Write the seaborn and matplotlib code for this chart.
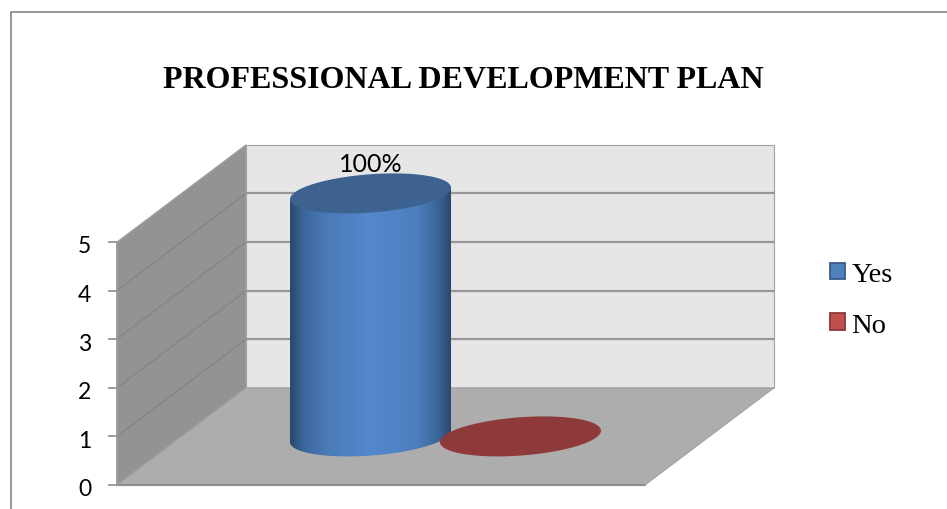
import numpy as np
import pandas as pd
import matplotlib
matplotlib.use("Agg")
import matplotlib.pyplot as plt
from matplotlib.colors import LinearSegmentedColormap
from matplotlib.patches import Polygon
from matplotlib.transforms import ScaledTranslation
import seaborn as sns

TITLE = "PROFESSIONAL DEVELOPMENT PLAN"
categories = ["Professional development plan"]
series = ["Yes", "No"]
values = [5, 0]
y_ticks = [0, 1, 2, 3, 4, 5]

W, H = 947, 510
sns.set_theme(style="white")
fig = plt.figure(figsize=(W / 100, H / 100), dpi=100, facecolor="white")
ax = fig.add_axes([117 / W, 1 - 486 / H, 528 / W, 243 / H])

df = pd.DataFrame({"category": categories * 2, "series": series, "value": values})
sns.barplot(data=df, x="category", y="value", hue="series", hue_order=series,
            palette=["#4F81BD", "#C0504D"], width=0.568, saturation=1, ax=ax,
            edgecolor="#385D8A", linewidth=0)

# Oblique projection: depth runs up and to the right of the front plane
DX, DY = 129 / 528, 2.0
X0, X1 = -0.5, 0.5
YTOP = y_ticks[-1]


def proj(x, y, d):
    return (x + d * DX, y + d * DY)


def wall(corners, color, z):
    ax.add_patch(Polygon([proj(*c) for c in corners], closed=True, facecolor=color,
                         edgecolor="#A2A2A2", linewidth=0.8, clip_on=False, zorder=z))


wall([(X0, 0, 1), (X1, 0, 1), (X1, YTOP, 1), (X0, YTOP, 1)], "#E6E6E6", 0.1)
wall([(X0, 0, 0), (X1, 0, 0), (X1, 0, 1), (X0, 0, 1)], "#ADADAD", 0.2)
wall([(X0, 0, 0), (X0, 0, 1), (X0, YTOP, 1), (X0, YTOP, 0)], "#939393", 0.3)

# Gridlines wrap from the side wall onto the back wall
for v in y_ticks[1:-1]:
    xa, ya = proj(X0, v, 0)
    xb, yb = proj(X0, v, 1)
    xc, yc = proj(X1, v, 1)
    ax.plot([xa, xb], [ya, yb], color="#858585", lw=1.0, clip_on=False, zorder=0.4)
    ax.plot([xb, xc], [yb, yc], color="#979797", lw=1.6, clip_on=False, zorder=0.4)
ax.plot([X0, X1], [0, 0], color="#8E8E8E", lw=1.6, clip_on=False, zorder=0.5)
ax.plot([X0, X0], [0, YTOP], color="#9A9A9A", lw=1.2, clip_on=False, zorder=0.5)

# Cylinder caps are sheared ellipses lying in the floor plane
RX = 80.5 / 528
RY = 20 / 48.6
PHASE = 0.29


def cap_points(cx, cy, start=0.0, stop=2 * np.pi):
    t = np.linspace(start, stop, 240)
    return np.column_stack([cx + RX * np.cos(t), cy + RY * np.sin(t + PHASE)])


body_cmap = LinearSegmentedColormap.from_list("body", [
    (0.00, "#2A4769"), (0.08, "#3A659A"), (0.22, "#4A7AB6"), (0.50, "#5487CC"),
    (0.78, "#4D7FBF"), (0.92, "#3A6496"), (1.00, "#2A466B")])
top_colors = {"Yes": "#3D628F", "No": "#8F3A3A"}

for name, value, bar in zip(series, values, ax.patches):
    cx, base = proj(bar.get_x() + bar.get_width() / 2, 0, 0.5)
    top = base + value
    bar.set_visible(False)
    if value > 0:
        # Side of the cylinder: up the left edge, across, down, then under the base
        under = cap_points(cx, base, np.pi, 2 * np.pi)
        outline = np.vstack([[(cx - RX, top + RY * np.sin(np.pi + PHASE))], under,
                             [(cx + RX, top + RY * np.sin(PHASE))]])
        side = Polygon(outline, closed=True, facecolor="none", edgecolor="none", clip_on=False)
        ax.add_patch(side)
        img = ax.imshow(np.linspace(0, 1, 256)[None, :], cmap=body_cmap, aspect="auto",
                        extent=(cx - RX, cx + RX, base - RY * 1.1, top + RY), zorder=2)
        img.set_clip_box(fig.bbox)
        img.set_clip_path(side)
        ax.text(cx, top + RY - 0.04, f"{value / sum(values):.0%}", ha="center", va="bottom",
                family="Lato", fontsize=18, color="black", zorder=4, clip_on=False)
    ax.add_patch(Polygon(cap_points(cx, top), closed=True, facecolor=top_colors[name],
                         edgecolor="none", clip_on=False, zorder=3))

ax.set_xlim(X0, X1)
ax.set_ylim(0, YTOP)
ax.set_yticks(y_ticks)
ax.set_xticks([])
ax.set_xlabel("")
ax.set_ylabel("")
ax.tick_params(axis="y", length=6.5, width=1.2, color="#8E8E8E", pad=12, left=True,
               labelsize=16.5, labelcolor="black")
nudge = ScaledTranslation(0, -2 / 100, fig.dpi_scale_trans)
for lab in ax.get_yticklabels():
    lab.set_family("Lato")
    lab.set_transform(lab.get_transform() + nudge)
sns.despine(ax=ax, left=True, bottom=True)
ax.patch.set_alpha(0)

sns.move_legend(ax, "upper left", bbox_to_anchor=(830 / W, 1 - 263 / H),
                bbox_transform=fig.transFigure, title=None, frameon=False,
                labelcolor="black",
                prop={"family": "Liberation Serif", "size": 20.5},
                handlelength=0.53, handleheight=0.53, handletextpad=0.22,
                labelspacing=0.9, borderpad=0, borderaxespad=0)
for h, ec in zip(ax.get_legend().get_patches(), ["#385D8A", "#8C3836"]):
    h.set_edgecolor(ec)
    h.set_linewidth(1.3)

fig.text(463 / W, 1 - 80 / H, TITLE, ha="center", va="center", family="Liberation Serif",
         fontweight="bold", fontsize=23, color="black")

# Chart frame, cut off by the right and bottom of the canvas
fig.add_artist(plt.Line2D([11 / W, 11 / W, 1], [0, 1 - 13 / H, 1 - 13 / H],
                          color="#8E8E8E", lw=1.3))

fig.savefig("out.png", dpi=100)
